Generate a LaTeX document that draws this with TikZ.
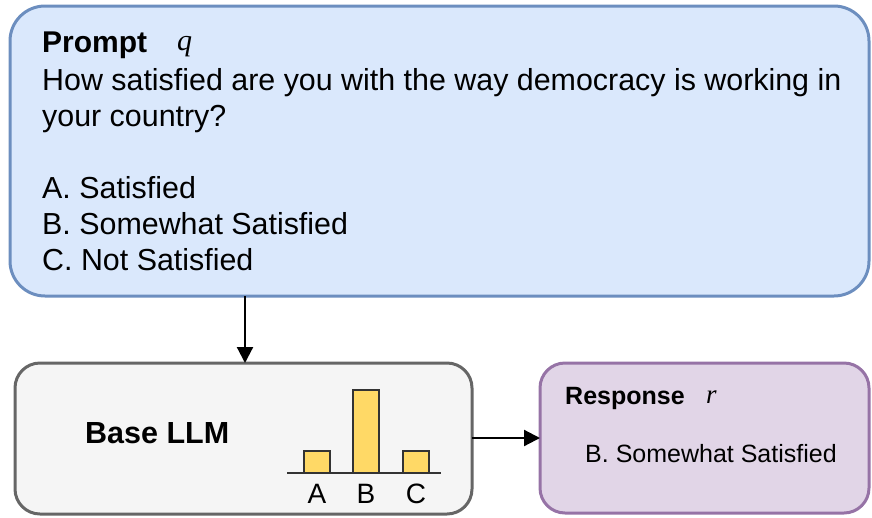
\documentclass[tikz,border=0pt]{standalone}
\usepackage{fontspec}
\setmainfont{Liberation Sans}
\newfontfamily\serifit{Liberation Serif}
\usetikzlibrary{arrows.meta}
\definecolor{pfill}{HTML}{DAE8FC}
\definecolor{pdraw}{HTML}{6C8EBF}
\definecolor{gfill}{HTML}{F5F5F5}
\definecolor{gdraw}{HTML}{666666}
\definecolor{rfill}{HTML}{E1D5E7}
\definecolor{rdraw}{HTML}{9673A6}
\definecolor{bfill}{HTML}{FFD966}
\tikzset{
  box/.style={rounded corners=#1, line width=3pt},
  txt/.style={anchor=base west, inner sep=0pt, font=\fontsize{30.4}{36}\selectfont},
  arr/.style={line width=2.2pt, -{Triangle[length=16pt,width=16pt]}},
  bar/.style={fill=bfill, draw=black!80, line width=1.8pt},
}
\begin{document}
\begin{tikzpicture}[x=1pt,y=-1pt]
\useasboundingbox (0,0) rectangle (872,517);
% Prompt box
\draw[box=35pt, fill=pfill, draw=pdraw] (10,6) rectangle (869,296);
\coordinate (pbot) at (245,296);
\node[txt, font=\fontsize{30}{36}\selectfont\bfseries] (ptitle) at (42,52) {Prompt};
\node[txt, font=\fontsize{30}{36}\selectfont\serifit\itshape] (q) at (177,50) {q};
\node[txt] (l1) at (42,90) {How satisfied are you with the way democracy is working in};
\node[txt] (l2) at (42,126) {your country?};
\node[txt] (l3) at (42,198) {A. Satisfied};
\node[txt] (l4) at (42,234) {B. Somewhat Satisfied};
\node[txt] (l5) at (42,270) {C. Not Satisfied};
% Base LLM box
\draw[box=25pt, fill=gfill, draw=gdraw] (15,363) rectangle (472,514);
\coordinate (gtop) at (245,363);
\coordinate (gright) at (472,438);
\node[txt, font=\fontsize{30.5}{36}\selectfont\bfseries] (llm) at (85,443) {Base LLM};
% bar chart
\draw[bar] (304,451) rectangle (330,473);
\draw[bar] (353,390) rectangle (379,473);
\draw[bar] (403,451) rectangle (429,473);
\draw[line width=2.2pt, draw=black!80] (287,473) -- (441,473);
\node[anchor=base, inner sep=0pt, font=\fontsize{28}{30}\selectfont] (la) at (317,503) {A};
\node[anchor=base, inner sep=0pt, font=\fontsize{28}{30}\selectfont] (lb) at (366,503) {B};
\node[anchor=base, inner sep=0pt, font=\fontsize{28}{30}\selectfont] (lc) at (416,503) {C};
% Response box
\draw[box=25pt, fill=rfill, draw=rdraw] (540,363) rectangle (869,513);
\coordinate (rleft) at (540,438);
\node[txt, font=\fontsize{25}{30}\selectfont\bfseries] (resp) at (565,404) {Response};
\node[txt, font=\fontsize{27}{30}\selectfont\serifit\itshape] (r) at (706,403) {r};
\node[txt, font=\fontsize{25}{30}\selectfont] (ans) at (585,462) {B. Somewhat Satisfied};
% arrows
\draw[arr] (pbot) -- (gtop);
\draw[arr] (gright) -- (rleft);
\end{tikzpicture}
\end{document}
